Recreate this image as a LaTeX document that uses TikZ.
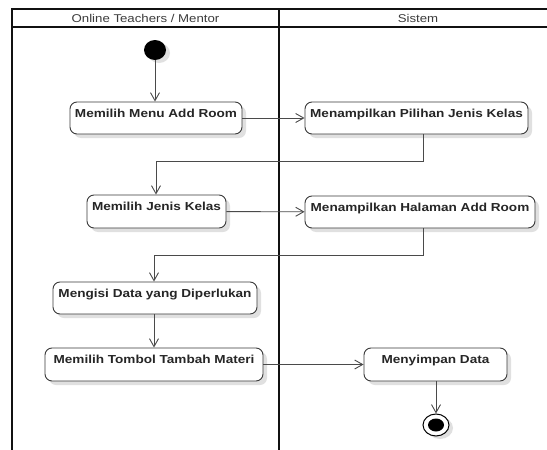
\documentclass[tikz,border=0pt]{standalone}
\usepackage{fontspec}
\setmainfont{Liberation Sans}
\usetikzlibrary{arrows.meta,shadows,shapes.geometric}
\definecolor{lane}{HTML}{111111}
\definecolor{flow}{HTML}{4A4A4A}
\definecolor{boxline}{HTML}{3A3A3A}
\definecolor{ink}{HTML}{262626}
\definecolor{headink}{HTML}{3C3C3C}
\definecolor{shade}{HTML}{E0E0E0}
% slightly widened lettering, as in the original drawing
\newcommand{\wtext}[1]{\scalebox{1.17}[1]{#1}}

\begin{document}
\begin{tikzpicture}[x=1pt,y=-1pt,
  act/.style={draw=boxline, line width=0.9pt, rounded corners=7pt, fill=white,
    drop shadow={shadow xshift=4pt,shadow yshift=-4pt,fill=shade,opacity=1},
    inner xsep=0pt, inner ysep=3pt, text height=12pt, text depth=14pt,
    font=\fontsize{11.6}{14}\selectfont\bfseries, text=ink},
  flowline/.style={draw=flow, line width=0.9pt, -{Straight Barb[length=8pt,width=9pt]}},
  laneline/.style={draw=lane, line width=2pt},
  head/.style={font=\fontsize{11.3}{13}\selectfont, text=headink, inner sep=0pt}
]
\useasboundingbox[fill=white] (0,0) rectangle (547,450);

% swimlane frame
\draw[laneline] (12,450) -- (12,9) -- (547,9);
\draw[laneline] (12,27) -- (547,27);
\draw[laneline] (279,9) -- (279,450);
\node[head] (h1) at (145.5,18) {\wtext{Online Teachers / Mentor}};
\node[head] (h2) at (418,18) {\wtext{Sistem}};

% start and end
\node[ellipse, fill=black, minimum width=22pt, minimum height=20pt, inner sep=0pt,
  drop shadow={shadow xshift=4pt,shadow yshift=-3pt,fill=shade,opacity=1}] (start) at (155,50) {};
\node[ellipse, draw=black, line width=1pt, fill=white, minimum width=26pt, minimum height=22pt, inner sep=0pt,
  drop shadow={shadow xshift=4pt,shadow yshift=-3pt,fill=shade,opacity=1}] (fin) at (436,425) {};
\node[ellipse, fill=black, minimum width=16pt, minimum height=13pt, inner sep=0pt] (fincore) at (fin) {};

% activities
\node[act, minimum width=172pt, minimum height=32pt] (n1) at (156,118) {\wtext{Memilih Menu Add Room}};
\node[act, minimum width=223pt, minimum height=32pt] (n2) at (416.5,118) {\wtext{Menampilkan Pilihan Jenis Kelas}};
\node[act, minimum width=139pt, minimum height=33pt] (n3) at (156.5,211.5) {\wtext{Memilih Jenis Kelas}};
\node[act, minimum width=230pt, minimum height=32pt] (n4) at (420,212) {\wtext{Menampilkan Halaman Add Room}};
\node[act, minimum width=204pt, minimum height=32pt] (n5) at (155,298) {\wtext{Mengisi Data yang Diperlukan}};
\node[act, minimum width=218pt, minimum height=33pt] (n6) at (154,364.5) {\wtext{Memilih Tombol Tambah Materi}};
\node[act, minimum width=143pt, minimum height=33pt] (n7) at (435.5,364.5) {\wtext{Menyimpan Data}};

% bend points
\coordinate (b1) at (423,161);
\coordinate (b2) at (156,161);
\coordinate (b3) at (423,255);
\coordinate (b4) at (154,255);

% flows
\draw[flowline] (start) -- (start |- n1.north);
\draw[flowline] (n1) -- (n2);
\draw[flowline] (b1 |- n2.south) -- (b1) -- (b2) -- (b2 |- n3.north);
\draw[flowline] (n3) -- (n4);
\draw[flowline] (b3 |- n4.south) -- (b3) -- (b4) -- (b4 |- n5.north);
\draw[flowline] (b4 |- n5.south) -- (b4 |- n6.north);
\draw[flowline] (n6.east |- n7) -- (n7);
\draw[flowline] (fin |- n7.south) -- (fin.north);
\end{tikzpicture}
\end{document}
